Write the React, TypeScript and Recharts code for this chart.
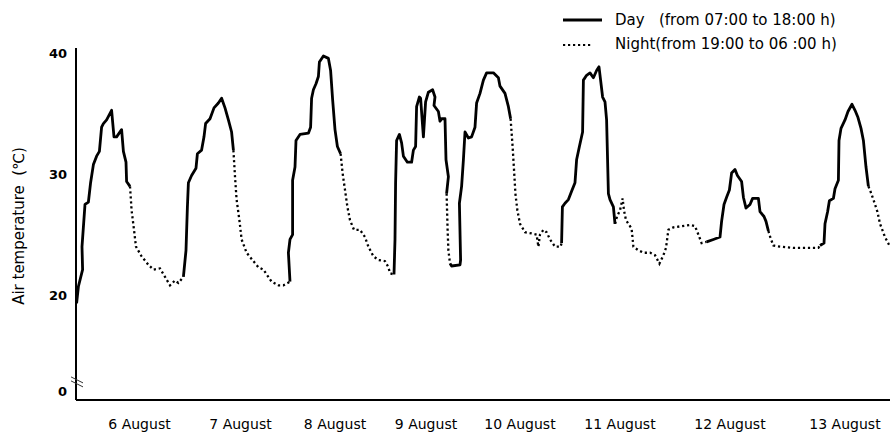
import React from 'react';
import { LineChart, Line, XAxis, YAxis, ReferenceDot } from 'recharts';

// x = reading index along the record, t = air temperature (°C)
type Pair = [number, number];

const dateLabels = ['6 August', '7 August', '8 August', '9 August', '10 August', '11 August', '12 August', '13 August'];
const dateTickPositions = [31.75, 82.25, 129.5, 175, 222, 272, 327, 384.5];

const yTickValues = [12, 20, 30, 40];
const yTickLabels = ['0', '20', '30', '40'];
const axisBreakValue = 12.8;

const day1: Pair[] = [[0.3,19.3],[1.2,20.7],[3.3,22.1],[3.0,24.0],[4.5,27.5],[6.2,27.7],[7.3,29.3],[8.7,30.8],[10.3,31.5],[11.7,31.9],[12.8,33.9],[13.7,34.2],[15.3,34.5],[17.8,35.3],[19,33.1],[20.3,33.1],[22.8,33.7],[23.7,31.9],[25,31.0],[25.3,29.4],[27,29.0]];
const night1: Pair[] = [[27,29.0],[27.8,27.0],[29,25.4],[30,24.0],[32.8,23.2],[36.2,22.5],[38.7,22.1],[42,22.2],[44.5,21.5],[47,20.8],[49.5,21.2],[51.2,21.0],[53.7,21.5]];
const day2: Pair[] = [[53.7,21.5],[55,23.7],[55.7,27.3],[56.2,29.3],[57.8,29.9],[60,30.5],[60.7,31.7],[62.8,32.0],[64,33.1],[64.8,34.2],[67,34.6],[69,35.5],[71.2,35.9],[72.8,36.3],[74.5,35.5],[76.2,34.5],[77.8,33.5],[78.7,32.0]];
const night2: Pair[] = [[78.7,32.0],[79.5,29.8],[80.3,27.9],[81.7,26.2],[82.8,24.6],[85.3,23.5],[88.7,22.8],[91.2,22.3],[93.7,22.1],[97.8,21.1],[101.2,20.8],[103.7,20.8],[107,21.1]];
const day3: Pair[] = [[107,21.1],[106.2,23.5],[107,24.6],[108.3,25.0],[108.3,29.5],[109.5,30.6],[110,32.8],[112,33.3],[116.2,33.4],[117.3,33.9],[117.8,36.3],[118.7,37.0],[120,37.5],[121.2,38.1],[121.7,39.3],[123.7,39.8],[126.2,39.6],[127.3,38.6],[128.3,36.2],[129.5,33.7],[130.7,32.3],[132.3,31.7]];
const night3: Pair[] = [[132.3,31.7],[133.3,30.1],[134.5,28.7],[135.7,27.3],[137,26.2],[139,25.4],[142,25.4],[144.5,24.8],[146.2,24.0],[148.7,23.2],[151.2,22.9],[154.5,22.8],[156.2,22.3],[157,21.8],[159,21.7]];
const day4: Pair[] = [[159,21.7],[159.5,24.6],[159.8,29.3],[160.3,32.8],[161.7,33.3],[162.8,32.6],[163.7,31.5],[165.7,31.0],[167.8,31.0],[168.7,32.0],[169.8,32.3],[170.3,35.6],[171.7,36.4],[172.3,36.3],[173.7,33.1],[174.8,36.0],[176.2,36.8],[178.3,37.0],[179.5,36.4],[179,35.7],[181.2,35.2],[182,34.4],[182.8,34.6],[184.5,34.6],[185,31.2],[186.2,29.8],[185.3,28.4]];
const night4: Pair[] = [[185.3,28.4],[185.8,25.4],[186.2,23.7],[187,22.6]];
const day5: Pair[] = [[187,22.6],[187.8,22.4],[192,22.5],[192.3,22.9],[191.7,27.6],[192.8,29.0],[193.7,31.2],[194.5,33.5],[196.2,33.0],[197.8,33.1],[199.5,33.9],[200.3,35.9],[202,36.7],[203.7,37.8],[205.3,38.4],[208.7,38.4],[211.2,38.0],[212,37.3],[214.5,36.7],[216.2,35.6],[217.3,34.6]];
const night5: Pair[] = [[217.3,34.6],[218.3,32.3],[219,30.4],[219.7,28.4],[220.7,27.0],[222,25.9],[224.5,25.2],[227.8,25.1],[230.3,25.0],[231.2,24.0],[232,25.0],[233.7,25.4],[235.3,25.2],[237,24.6],[239.5,24.0],[242.3,24.0],[242.8,24.3]];
const day6: Pair[] = [[242.8,24.3],[243.2,27.3],[244.5,27.6],[246.2,27.9],[247.8,28.6],[249.5,29.3],[250.3,31.2],[251.7,32.3],[253.3,33.5],[253.7,37.8],[255.3,38.2],[257,38.4],[258.7,38.0],[260.3,38.6],[261.5,38.9],[262.3,37.8],[263.3,36.4],[264.5,36.0],[265.3,34.5],[266.2,28.4],[267,27.9],[268.7,27.3],[269.5,25.9]];
const night6: Pair[] = [[269.5,25.9],[270.5,26.5],[272,27.0],[273.3,28.0],[274,27.0],[275,26.2],[276.2,25.9],[277.8,25.5],[278.7,24.0],[281.2,23.7],[283.7,23.5],[287,23.5],[289.5,23.3],[291.7,22.6],[293.7,23.3],[295,23.9],[296.2,25.4],[298.7,25.6],[302.8,25.7],[307,25.8],[309.5,25.7],[311.2,25.0],[312.8,24.3],[315.3,24.4]];
const day7: Pair[] = [[315.3,24.4],[318.7,24.6],[322,24.8],[322.8,26.1],[324,27.5],[325.3,28.1],[326.7,28.7],[327.8,30.1],[329.5,30.4],[330.7,29.9],[332.8,29.4],[333.7,28.1],[335,27.2],[337,27.5],[338.3,28.0],[341.2,28.0],[342,26.9],[344,26.5],[345,26.1],[346.2,25.3]];
const night7: Pair[] = [[346.2,25.3],[347.3,24.7],[348.7,24.1],[352,24.0],[358.7,23.9],[365.3,23.9],[371.2,23.9],[372,24.1]];
const day8: Pair[] = [[372,24.1],[374,24.3],[374.5,25.9],[375.8,26.9],[376.7,27.8],[378.7,28.0],[379.5,28.8],[381.2,29.5],[381.5,32.8],[382.5,33.8],[384.5,34.5],[386,35.2],[388,35.8],[389.5,35.3],[391,34.7],[392.5,33.8],[393.7,32.8],[395,30.6],[396.2,29.0]];
const night8: Pair[] = [[396.2,29.0],[397,28.7],[398.7,27.9],[400.7,26.9],[402,25.9],[404.5,24.8],[406.7,24.1]];

const daySegments = [day1, day2, day3, day4, day5, day6, day7, day8];
const nightSegments = [night1, night2, night3, night4, night5, night6, night7, night8];

type Pt = { x: number; t: number | null };
const joinSegments = (segs: Pair[][]): Pt[] =>
  segs.flatMap((seg, i) => {
    const pts: Pt[] = seg.map(([x, t]) => ({ x, t }));
    if (i < segs.length - 1) pts.push({ x: seg[seg.length - 1][0], t: null });
    return pts;
  });

const dayData = joinSegments(daySegments);
const nightData = joinSegments(nightSegments);

const FONT = "'DejaVu Sans', 'Noto Sans CJK KR', sans-serif";

const BreakMark = (props: any) => {
  const { cx, cy } = props;
  if (cx == null || cy == null) return null;
  return (
    <g stroke="#333" strokeWidth={1}>
      <line x1={cx - 5} y1={cy - 5} x2={cx + 7} y2={cy + 1} />
      <line x1={cx - 5} y1={cy - 1} x2={cx + 7} y2={cy + 5} />
    </g>
  );
};

const YLabel = (props: any) => {
  const vb = props.viewBox || { x: 0, y: 48, width: 76, height: 352 };
  const x = vb.x + 19;
  const y = vb.y + vb.height / 2 + 2;
  return (
    <text
      x={x}
      y={y}
      transform={`rotate(-90, ${x}, ${y})`}
      textAnchor="middle"
      dominantBaseline="central"
      fontFamily={FONT}
      fontSize={15}
      fill="#000"
      style={{ whiteSpace: 'pre' }}
    >
      {'Air temperature  (℃)'}
    </text>
  );
};

const legendRow = (top: number): React.CSSProperties => ({
  position: 'absolute',
  left: 563,
  top,
  height: 20,
  display: 'flex',
  alignItems: 'center',
  fontFamily: FONT,
  fontSize: 15,
  color: '#000',
  whiteSpace: 'pre',
  lineHeight: '20px',
});

export default function App() {
  return (
    <div style={{ position: 'absolute', left: 0, top: 0, width: 890, height: 433, background: '#fff' }}>
      <LineChart width={890} height={433} margin={{ top: 48, right: 0, bottom: 0, left: 0 }}>
        <XAxis
          type="number"
          dataKey="x"
          domain={[0, 407]}
          allowDataOverflow
          ticks={dateTickPositions}
          interval={0}
          tickFormatter={(v: number) => dateLabels[dateTickPositions.indexOf(v)] ?? ''}
          height={33}
          tickLine={false}
          tickSize={0}
          tickMargin={19}
          axisLine={{ stroke: '#000', strokeWidth: 2 }}
          tick={{ fill: '#000', fontSize: 14, fontFamily: FONT }}
        />
        <YAxis
          type="number"
          domain={[11.3, 40.46]}
          allowDataOverflow
          ticks={yTickValues}
          interval={0}
          tickFormatter={(v: number) => yTickLabels[yTickValues.indexOf(v)] ?? ''}
          width={76}
          tickLine={false}
          tickSize={0}
          tickMargin={9}
          axisLine={{ stroke: '#000', strokeWidth: 2 }}
          tick={{ fill: '#000', fontSize: 13, fontWeight: 'bold', fontFamily: FONT }}
          label={<YLabel />}
        />
        <Line
          data={nightData}
          dataKey="t"
          type="linear"
          stroke="#000"
          strokeWidth={2.3}
          strokeDasharray="2.2 2.8"
          dot={false}
          activeDot={false}
          connectNulls={false}
          isAnimationActive={false}
        />
        <Line
          data={dayData}
          dataKey="t"
          type="linear"
          stroke="#000"
          strokeWidth={2.8}
          strokeLinejoin="round"
          dot={false}
          activeDot={false}
          connectNulls={false}
          isAnimationActive={false}
        />
        <ReferenceDot x={0} y={axisBreakValue} ifOverflow="visible" shape={<BreakMark />} />
      </LineChart>
      <div style={legendRow(10)}>
        <svg width={52} height={20}>
          <line x1={0} x2={39} y1={10} y2={10} stroke="#000" strokeWidth={2.8} />
        </svg>
        <span>{'Day   (from 07:00 to 18:00 h)'}</span>
      </div>
      <div style={legendRow(34)}>
        <svg width={52} height={20}>
          <line x1={0} x2={28} y1={11} y2={11} stroke="#000" strokeWidth={2.2} strokeDasharray="2.2 2.8" />
        </svg>
        <span>{'Night(from 19:00 to 06 :00 h)'}</span>
      </div>
    </div>
  );
}
